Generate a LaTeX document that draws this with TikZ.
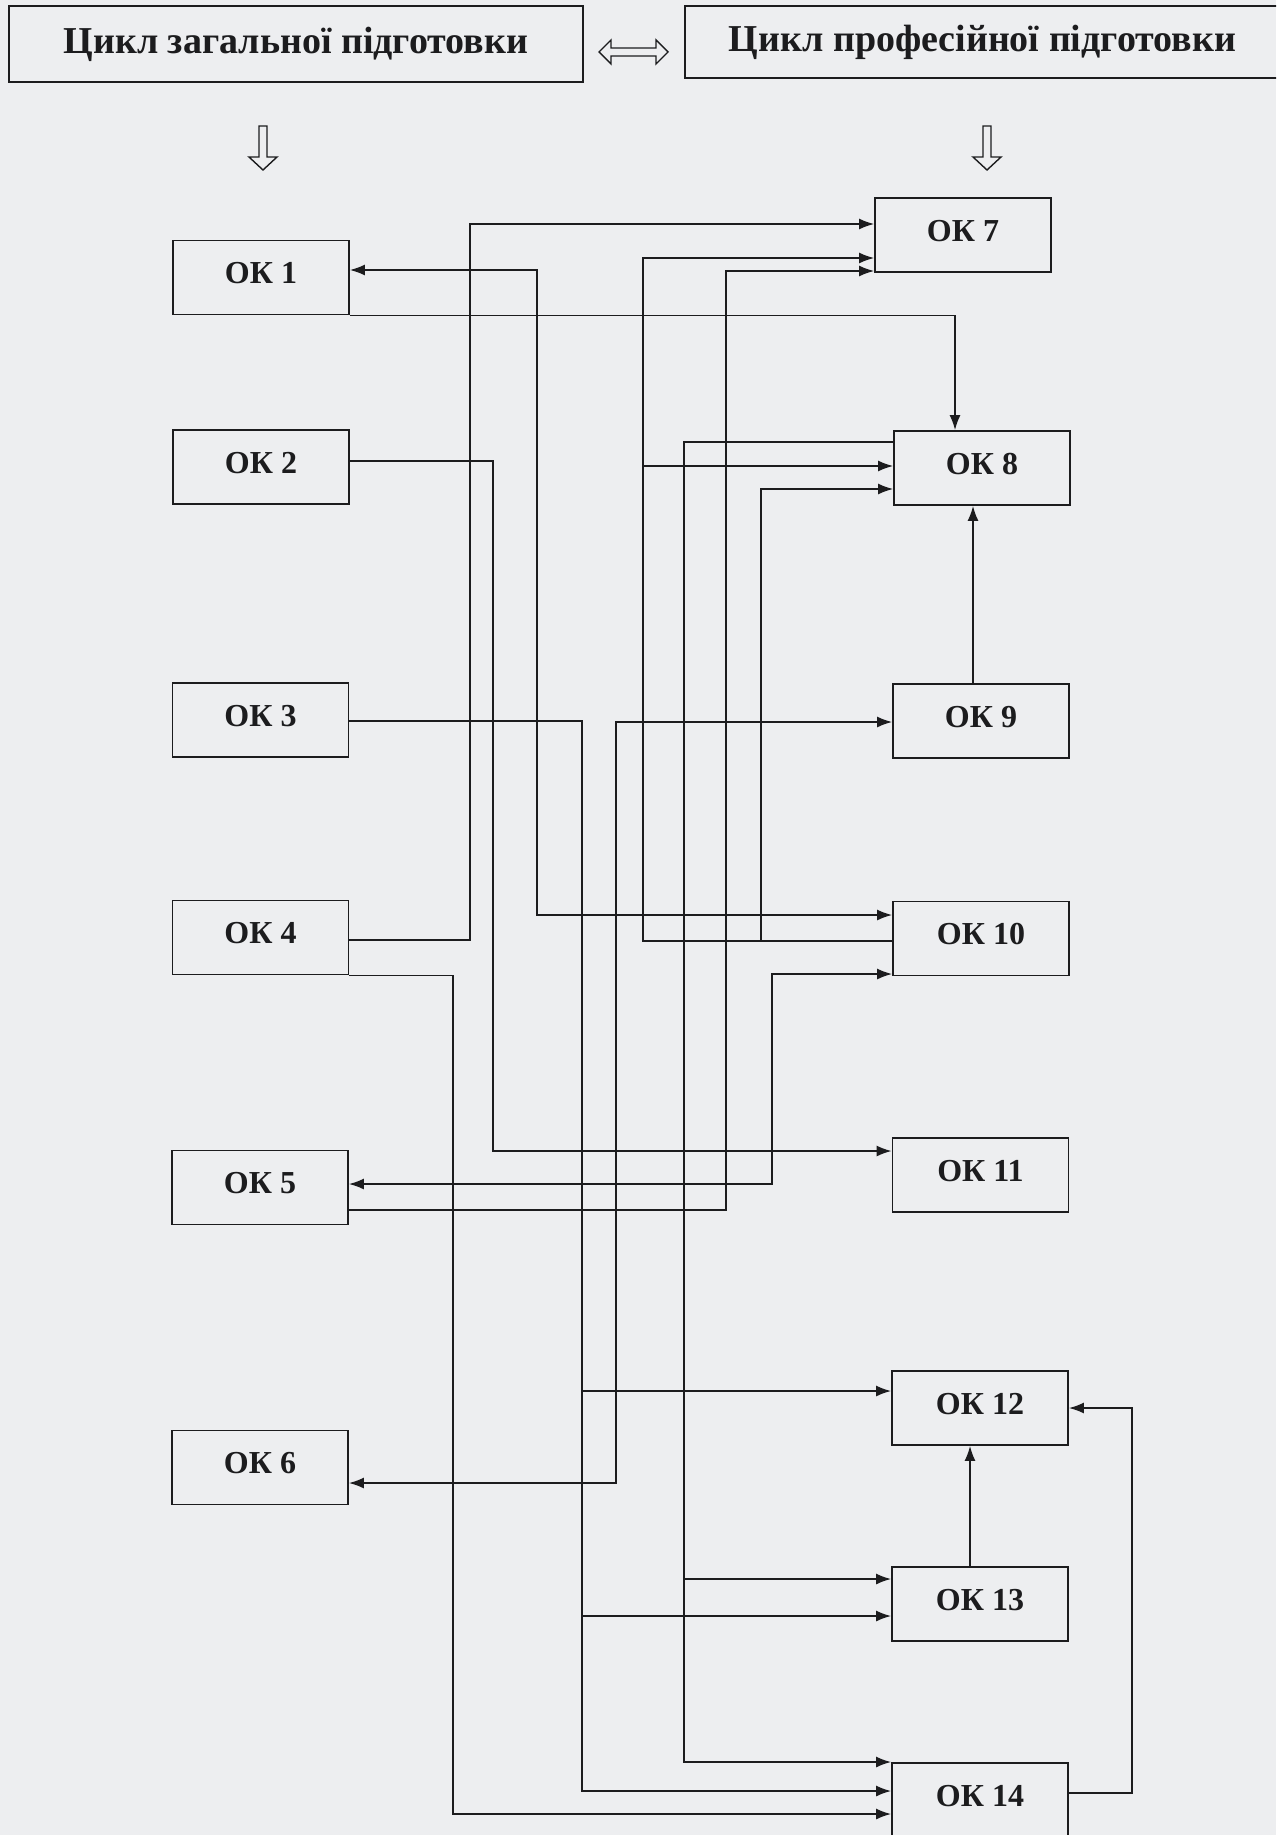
\documentclass[tikz,border=0pt]{standalone}
\usepackage{fontspec}
\setmainfont{Liberation Serif}
\usetikzlibrary{arrows.meta}
\definecolor{bgc}{RGB}{237,238,240}
\definecolor{ink}{RGB}{28,28,30}
\newcommand{\oklab}[1]{\raisebox{4pt}[\height][\depth]{#1}}
\begin{document}
\begin{tikzpicture}[x=1pt,y=-1pt,
  okbox/.style={draw=ink, line width=1.8pt, minimum width=176pt, minimum height=74pt, inner sep=0pt, font=\fontsize{32}{36}\selectfont\bfseries, text=ink},
  hbox/.style={draw=ink, line width=1.8pt, inner sep=0pt, font=\fontsize{38}{42}\selectfont\bfseries, text=ink},
  conn/.style={draw=ink, line width=1.6pt},
  arr/.style={conn, -{Latex[length=15pt,width=11pt]}},
  barr/.style={conn, {Latex[length=15pt,width=11pt]}-{Latex[length=15pt,width=11pt]}},
  hollow/.style={draw=ink, line width=1.4pt, fill=bgc, line join=miter}
]
\fill[bgc] (0,0) rectangle (1276,1835);
\useasboundingbox (0,0) rectangle (1276,1835);
\clip (0,0) rectangle (1276,1835);

% headers
\node[hbox, minimum width=574pt, minimum height=76pt] (H1) at (296,44) {Цикл загальної підготовки};
\node[hbox, minimum width=595pt, minimum height=72pt] (H2) at (982.5,42) {Цикл професійної підготовки};

% hollow arrows
\draw[hollow] (599,52) -- (611,40) -- (611,48) -- (656,48) -- (656,40) -- (668,52) -- (656,64) -- (656,56) -- (611,56) -- (611,64) -- cycle;
\draw[hollow] (259,126) -- (267,126) -- (267,157) -- (277,157) -- (263,170) -- (249,157) -- (259,157) -- cycle;
\draw[hollow] (983,126) -- (991,126) -- (991,157) -- (1001,157) -- (987,170) -- (973,157) -- (983,157) -- cycle;

% boxes
\node[okbox] (OK1) at (261,277.5) {\oklab{ОК 1}};
\node[okbox] (OK2) at (261,467) {\oklab{ОК 2}};
\node[okbox] (OK3) at (260.5,720) {\oklab{ОК 3}};
\node[okbox] (OK4) at (260.5,937.5) {\oklab{ОК 4}};
\node[okbox] (OK5) at (260,1187.5) {\oklab{ОК 5}};
\node[okbox] (OK6) at (260,1467.5) {\oklab{ОК 6}};
\node[okbox] (OK7) at (963,235) {\oklab{ОК 7}};
\node[okbox] (OK8) at (982,468) {\oklab{ОК 8}};
\node[okbox] (OK9) at (981,721) {\oklab{ОК 9}};
\node[okbox] (OK10) at (981,938.5) {\oklab{ОК 10}};
\node[okbox] (OK11) at (980.5,1175) {\oklab{ОК 11}};
\node[okbox] (OK12) at (980,1408) {\oklab{ОК 12}};
\node[okbox] (OK13) at (980,1604) {\oklab{ОК 13}};
\node[okbox] (OK14) at (980,1800) {\oklab{ОК 14}};

% connectors
\draw[arr] (OK4.east |- 0,940) -| (470,224) -- (OK7.west |- 0,224);
\draw[barr] (OK1.east |- 0,270) -| (537,915) -- (OK10.west |- 0,915);
\draw[arr] (OK1.south east) -| (OK8.north -| 955,0);
\draw[arr] (OK2.east |- 0,461) -| (493,1151) -- (OK11.west |- 0,1151);
\draw[arr] (OK3.east |- 0,721) -| (582,1791) -- (OK14.west |- 0,1791);
\draw[arr] (582,1391) -- (OK12.west |- 0,1391);
\draw[arr] (582,1616) -- (OK13.west |- 0,1616);
\draw[barr] (OK9.west |- 0,722) -| (616,1483) -- (OK6.east |- 0,1483);
\draw[arr] (OK10.west |- 0,941) -| (643,258) -- (OK7.west |- 0,258);
\draw[arr] (643,466) -- (OK8.west |- 0,466);
\draw[arr] (761,941) -- (761,489) -- (OK8.west |- 0,489);
\draw[arr] (OK8.west |- 0,442) -| (684,1762) -- (OK14.west |- 0,1762);
\draw[arr] (684,1579) -- (OK13.west |- 0,1579);
\draw[arr] (OK5.east |- 0,1210) -| (726,271) -- (OK7.west |- 0,271);
\draw[barr] (OK5.east |- 0,1184) -| (772,974) -- (OK10.west |- 0,974);
\draw[arr] (OK4.south east) -| (453,1814) -- (OK14.west |- 0,1814);
\draw[arr] (OK9.north -| 973,0) -- (OK8.south -| 973,0);
\draw[arr] (OK13.north -| 970,0) -- (OK12.south -| 970,0);
\draw[arr] (OK14.east |- 0,1793) -| (1132,1408) -- (OK12.east |- 0,1408);
\end{tikzpicture}
\end{document}
